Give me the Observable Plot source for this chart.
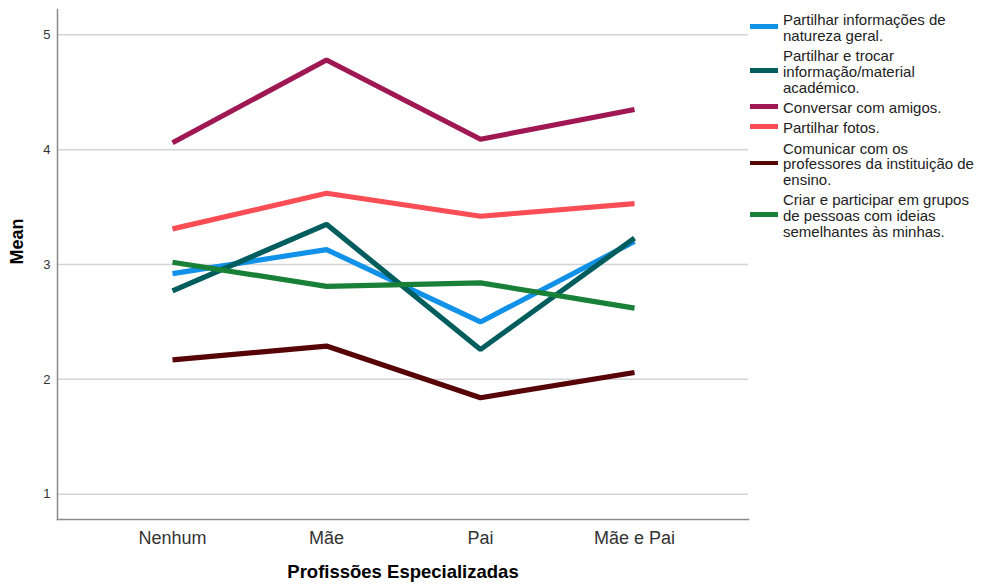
<!DOCTYPE html>
<html>
<head>
<meta charset="utf-8">
<script src="https://cdn.jsdelivr.net/npm/d3@7"></script>
<script src="https://cdn.jsdelivr.net/npm/@observablehq/plot@0.6"></script>
<style>
  body { margin: 0; background: #fff; font-family: "Liberation Sans", Arial, sans-serif; }
  #wrap { position: relative; width: 982px; height: 587px; }
  #legend { position: absolute; left: 750px; top: 12px; font-size: 15px; color: #222; }
  .entry { display: flex; align-items: center; margin-bottom: 4.5px; }
  .sw { width: 28px; height: 4.5px; margin-right: 5px; margin-top: -3px; flex: none; }
  .lbl { line-height: 15.8px; white-space: nowrap; }
</style>
</head>
<body>
<div id="wrap"><div id="legend"></div></div>
<script>
const categories = ["Nenhum", "Mãe", "Pai", "Mãe e Pai"];
const seriesNames = [
  "Partilhar informações de natureza geral.",
  "Partilhar e trocar informação/material académico.",
  "Conversar com amigos.",
  "Partilhar fotos.",
  "Comunicar com os professores da instituição de ensino.",
  "Criar e participar em grupos de pessoas com ideias semelhantes às minhas."
];
const legendLines = [
  ["Partilhar informações de", "natureza geral."],
  ["Partilhar e trocar", "informação/material", "académico."],
  ["Conversar com amigos."],
  ["Partilhar fotos."],
  ["Comunicar com os", "professores da instituição de", "ensino."],
  ["Criar e participar em grupos", "de pessoas com ideias", "semelhantes às minhas."]
];
const colors = ["#1192e8", "#005d5d", "#9f1853", "#fa4d56", "#570408", "#198038"];
const geral = [2.92, 3.13, 2.50, 3.20];
const academico = [2.77, 3.35, 2.26, 3.23];
const amigos = [4.06, 4.78, 4.09, 4.35];
const fotos = [3.31, 3.62, 3.42, 3.53];
const professores = [2.17, 2.29, 1.84, 2.06];
const grupos = [3.02, 2.81, 2.84, 2.62];
const yTicks = [1, 2, 3, 4, 5];

const allSeries = [geral, academico, amigos, fotos, professores, grupos];
const data = [];
allSeries.forEach((vals, si) => vals.forEach((v, ci) => data.push({cat: categories[ci], series: seriesNames[si], value: v})));

const chart = Plot.plot({
  width: 982,
  height: 587,
  marginLeft: 57,
  marginRight: 234,
  marginTop: 9,
  marginBottom: 68,
  style: {fontFamily: "'Liberation Sans', Arial, sans-serif", background: "#fff"},
  x: {type: "point", domain: categories, padding: 0.73, label: null},
  y: {domain: [0.78, 5.22], label: null},
  color: {domain: seriesNames, range: colors},
  marks: [
    Plot.gridY(yTicks, {stroke: "#d4d4d4", strokeOpacity: 1, strokeWidth: 1.5}),
    Plot.frame({anchor: "left", stroke: "#8a8a8a", strokeWidth: 1.5}),
    Plot.frame({anchor: "bottom", stroke: "#8a8a8a", strokeWidth: 1.5}),
    Plot.axisY(yTicks, {tickSize: 0, tickPadding: 7, fontSize: 13, fill: "#333", label: null, tickFormat: "d"}),
    Plot.axisX({tickSize: 0, tickPadding: 12, fontSize: 18, fill: "#333", label: null}),
    Plot.line(data, {x: "cat", y: "value", z: "series", stroke: "series", strokeWidth: 5.2, strokeLinejoin: "miter", strokeLinecap: "butt"}),
    Plot.text(["Mean"], {frameAnchor: "left", dx: -40, rotate: -90, fontSize: 18, fontWeight: "bold", fill: "#000", text: d => d}),
    Plot.text(["Profissões Especializadas"], {frameAnchor: "bottom", dy: 58, fontSize: 18.5, fontWeight: "bold", fill: "#000", text: d => d})
  ]
});
document.getElementById("wrap").prepend(chart);

const legend = document.getElementById("legend");
legendLines.forEach((lines, i) => {
  const e = document.createElement("div");
  e.className = "entry";
  const sw = document.createElement("div");
  sw.className = "sw";
  sw.style.background = colors[i];
  const lbl = document.createElement("div");
  lbl.className = "lbl";
  lbl.innerHTML = lines.join("<br>");
  e.appendChild(sw);
  e.appendChild(lbl);
  legend.appendChild(e);
});
</script>
</body>
</html>
